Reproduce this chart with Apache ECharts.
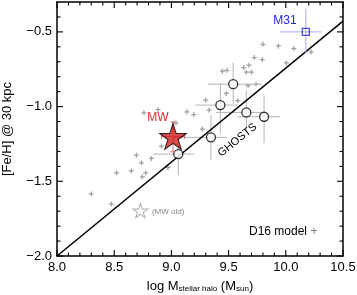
<!DOCTYPE html>
<html>
<head>
<meta charset="utf-8">
<script src="https://cdn.jsdelivr.net/npm/echarts@6/dist/echarts.min.js"></script>
<style>
html,body{margin:0;padding:0;background:#fff;}
#chart{width:357px;height:295px;}
</style>
</head>
<body>
<div id="chart"></div>
<script>
// ---- data ----
const xTickValues = [8.0, 8.5, 9.0, 9.5, 10.0, 10.5];
const xTickLabels = ['8.0', '8.5', '9.0', '9.5', '10.0', '10.5'];
const xMinorTicks = [8.1, 8.2, 8.3, 8.4, 8.6, 8.7, 8.8, 8.9, 9.1, 9.2, 9.3, 9.4,
                     9.6, 9.7, 9.8, 9.9, 10.1, 10.2, 10.3, 10.4];
const yTickValues = [-2.0, -1.5, -1.0, -0.5];
const yTickLabels = ['\u22122.0', '\u22121.5', '\u22121.0', '\u22120.5'];
const yMinorTicks = [-1.9, -1.8, -1.7, -1.6, -1.4, -1.3, -1.2, -1.1, -0.9, -0.8, -0.7, -0.6, -0.4];

const d16X = [9.80, 9.935, 10.07, 10.22, 9.725, 9.795, 10.005, 9.632, 9.678, 9.655, 9.70, 9.446, 9.486,
              9.67, 9.74, 9.48, 9.30, 9.58, 9.33, 9.136, 9.195, 9.27, 9.04,
              8.76, 8.883, 8.913, 8.694, 8.738, 8.825, 8.97, 8.65, 8.775, 8.746, 8.52, 8.30, 8.476];
const d16Y = [-0.583, -0.594, -0.612, -0.634, -0.672, -0.685, -0.708, -0.739, -0.723, -0.77, -0.77, -0.763, -0.757,
              -0.86, -0.85, -0.912, -0.957, -0.96, -1.024, -1.035, -1.053, -1.15, -1.11,
              -1.042, -1.02, -1.265, -1.325, -1.376, -1.347, -1.407, -1.43, -1.443, -1.47, -1.443, -1.585, -1.652];

const ghostsX = [9.54, 9.428, 9.655, 9.81, 9.346, 9.06];
const ghostsY = [-0.85, -0.99, -1.039, -1.068, -1.206, -1.318];
const ghostsXLo = [9.32, 9.21, 9.39, 9.58, 9.01, 8.84];
const ghostsXHi = [9.79, 9.58, 9.80, 9.95, 9.49, 9.20];
const ghostsYLo = [-0.98, -1.18, -1.17, -1.245, -1.36, -1.46];
const ghostsYHi = [-0.705, -0.845, -0.89, -0.924, -1.058, -1.19];

const mwX = [9.014], mwY = [-1.20];
const mwXLo = [8.913], mwXHi = [9.115], mwYLo = [-1.303], mwYHi = [-1.102];
const mwOldX = [8.729], mwOldY = [-1.697];

const m31X = [10.175], m31Y = [-0.50];
const m31XLo = [9.95], m31XHi = [10.31], m31YLo = [-0.645], m31YHi = [-0.345];

const fitX = [8.0, 10.5];
const fitY = [-2.0, -0.4275];

// annotation texts and their anchor points (data coordinates)
const noteTexts = ['MW', 'M31', 'GHOSTS', '(MW old)', 'D16 model'];
const noteX = [8.882, 9.992, 9.577, 8.83, 9.678];
const noteY = [-1.073, -0.425, -1.224, -1.702, -1.837];

// ---- helpers ----
const X_MIN = 8.0, X_MAX = 10.5, Y_MIN = -2.0, Y_MAX = -0.3;
const FONT = '"Liberation Sans", Arial, Helvetica, sans-serif';
const STAR = 'path://M100,0 L122.45,69.1 L195.1,69.1 L136.3,111.8 L158.8,180.9 L100,138.2 L41.2,180.9 L63.7,111.8 L4.9,69.1 L77.55,69.1 Z';
const PLUS = 'path://M0,1.5 H4 V2.5 H0 Z M1.5,0 H2.5 V4 H1.5 Z';

function zip(...arrs) { return arrs[0].map((_, i) => arrs.map(a => a[i])); }
function fmtTick(values, labels) {
  return v => { const i = values.findIndex(t => Math.abs(t - v) < 1e-6); return i >= 0 ? labels[i] : ''; };
}
function errRender(color, width, cap) {
  return function (params, api) {
    const x = api.value(0), y = api.value(1);
    const l = api.coord([api.value(2), y]), r = api.coord([api.value(3), y]);
    const b = api.coord([x, api.value(4)]), t = api.coord([x, api.value(5)]);
    const st = { stroke: color, lineWidth: width };
    const ch = [
      { type: 'line', shape: { x1: l[0], y1: l[1], x2: r[0], y2: r[1] }, style: st },
      { type: 'line', shape: { x1: b[0], y1: b[1], x2: t[0], y2: t[1] }, style: st }
    ];
    if (cap) {
      ch.push({ type: 'line', shape: { x1: l[0], y1: l[1] - cap, x2: l[0], y2: l[1] + cap }, style: st });
      ch.push({ type: 'line', shape: { x1: r[0], y1: r[1] - cap, x2: r[0], y2: r[1] + cap }, style: st });
      ch.push({ type: 'line', shape: { x1: b[0] - cap, y1: b[1], x2: b[0] + cap, y2: b[1] }, style: st });
      ch.push({ type: 'line', shape: { x1: t[0] - cap, y1: t[1], x2: t[0] + cap, y2: t[1] }, style: st });
    }
    return { type: 'group', children: ch };
  };
}
// inward ticks on all four sides, placed through the axes' own scales; drawn as thin filled bars
const tickData = [].concat(
  xTickValues.map(v => [v, Y_MIN, 1, 0]), xMinorTicks.map(v => [v, Y_MIN, 0, 0]),
  yTickValues.map(v => [X_MIN, v, 1, 1]), yMinorTicks.map(v => [X_MIN, v, 0, 1]));
function tickRender(params, api) {
  const major = api.value(2) === 1, isY = api.value(3) === 1;
  const len = major ? 6 : 3.5, w = 1.1;
  const st = { fill: '#000', stroke: null };
  if (!isY) {
    const v = api.value(0);
    const b = api.coord([v, Y_MIN]), t = api.coord([v, Y_MAX]);
    return { type: 'group', children: [
      { type: 'rect', shape: { x: b[0] - w / 2, y: b[1] - len, width: w, height: len }, style: st },
      { type: 'rect', shape: { x: t[0] - w / 2, y: t[1], width: w, height: len }, style: st }] };
  }
  const v = api.value(1);
  const l = api.coord([X_MIN, v]), r = api.coord([X_MAX, v]);
  return { type: 'group', children: [
    { type: 'rect', shape: { x: l[0], y: l[1] - w / 2, width: len, height: w }, style: st },
    { type: 'rect', shape: { x: r[0] - len, y: r[1] - w / 2, width: len, height: w }, style: st }] };
}
// annotation text styles
const noteStyles = [
  { fill: '#dd2a2a', fontSize: 12, align: 'center', rot: 0 },
  { fill: '#2424e6', fontSize: 12, align: 'center', rot: 0 },
  { fill: '#000', fontSize: 11, align: 'center', rot: 39 },
  { fill: '#888', fontSize: 8, align: 'left', rot: 0 },
  { fill: '#000', fontSize: 12, align: 'left', rot: 0, plus: true }
];
const noteData = zip(noteX, noteY, noteTexts.map((_, i) => i));
function noteRender(params, api) {
  const i = api.value(2);
  const s = noteStyles[i];
  const p = api.coord([api.value(0), api.value(1)]);
  const style = { align: s.align, verticalAlign: 'middle', fontFamily: FONT, fontSize: s.fontSize, fill: s.fill };
  if (s.plus) {
    style.text = '{a|' + noteTexts[i] + ' }{b|+}';
    style.rich = {
      a: { fontSize: s.fontSize, fontFamily: FONT, fill: s.fill },
      b: { fontSize: 13, fontFamily: FONT, fill: '#888' }
    };
  } else {
    style.text = noteTexts[i];
  }
  return { type: 'text', x: p[0], y: p[1], rotation: s.rot * Math.PI / 180, style: style };
}

const frameLine = { show: true, onZero: false, lineStyle: { color: '#000', width: 1.5 } };

const chart = echarts.init(document.getElementById('chart'), null, { renderer: 'canvas' });
chart.setOption({
  animation: false,
  backgroundColor: '#fff',
  grid: { left: 57, right: 14, top: 2, bottom: 39, containLabel: false, outerBoundsMode: 'none' },
  xAxis: [{
    type: 'value', position: 'bottom', min: X_MIN, max: X_MAX, interval: 0.5,
    axisLine: frameLine, axisTick: { show: false }, splitLine: { show: false },
    axisLabel: { show: true, color: '#000', fontSize: 13, fontFamily: FONT, margin: 5,
      formatter: fmtTick(xTickValues, xTickLabels) },
    name: '{n|log M}{s|stellar halo}{n| (M}{s|sun}{n|)}',
    nameLocation: 'middle', nameGap: 21, nameMoveOverlap: false,
    nameTextStyle: {
      rich: {
        n: { fontSize: 13, fontFamily: FONT, color: '#000', lineHeight: 16, verticalAlign: 'bottom' },
        s: { fontSize: 8, fontFamily: FONT, color: '#000', lineHeight: 9, verticalAlign: 'bottom' }
      }
    }
  }, {
    type: 'value', position: 'top', min: X_MIN, max: X_MAX, interval: 0.5,
    axisLine: frameLine, axisTick: { show: false }, splitLine: { show: false }, axisLabel: { show: false }
  }],
  yAxis: [{
    type: 'value', position: 'left', min: Y_MIN, max: Y_MAX, interval: 0.5,
    axisLine: frameLine, axisTick: { show: false }, splitLine: { show: false },
    axisLabel: { show: true, color: '#000', fontSize: 13, fontFamily: FONT, margin: 5,
      showMaxLabel: false, formatter: fmtTick(yTickValues, yTickLabels) },
    name: '[Fe/H] @ 30 kpc', nameLocation: 'middle', nameGap: 43, nameRotate: 90, nameMoveOverlap: false,
    nameTextStyle: { fontSize: 13, fontFamily: FONT, color: '#000' }
  }, {
    type: 'value', position: 'right', min: Y_MIN, max: Y_MAX, interval: 0.5,
    axisLine: frameLine, axisTick: { show: false }, splitLine: { show: false }, axisLabel: { show: false }
  }],
  series: [
    { type: 'custom', name: 'ticks', data: tickData, renderItem: tickRender, silent: true, z: 10 },
    { type: 'scatter', name: 'D16', data: zip(d16X, d16Y), symbol: PLUS, symbolSize: 5,
      itemStyle: { color: '#8a8a8a' }, z: 2 },
    { type: 'custom', name: 'ghostsErr', data: zip(ghostsX, ghostsY, ghostsXLo, ghostsXHi, ghostsYLo, ghostsYHi),
      renderItem: errRender('#b4b4b4', 1, 0), z: 3 },
    { type: 'line', name: 'fit', data: zip(fitX, fitY), symbol: 'none',
      lineStyle: { color: '#000', width: 1.5 }, z: 4 },
    { type: 'scatter', name: 'GHOSTS', data: zip(ghostsX, ghostsY), symbol: 'circle', symbolSize: 9,
      itemStyle: { color: '#fff', borderColor: '#000', borderWidth: 1.3 }, z: 5 },
    { type: 'custom', name: 'm31Err', data: zip(m31X, m31Y, m31XLo, m31XHi, m31YLo, m31YHi),
      renderItem: errRender('#a8a8ff', 1, 0), z: 5 },
    { type: 'scatter', name: 'M31', data: zip(m31X, m31Y), symbol: 'rect', symbolSize: 7,
      itemStyle: { color: 'rgba(255,255,255,0)', borderColor: '#1f1fe6', borderWidth: 1.3 }, z: 6 },
    { type: 'custom', name: 'mwErr', data: zip(mwX, mwY, mwXLo, mwXHi, mwYLo, mwYHi),
      renderItem: errRender('#e07070', 1, 2.5), z: 6 },
    { type: 'scatter', name: 'MW', data: zip(mwX, mwY), symbol: STAR, symbolSize: [27, 26],
      itemStyle: { color: '#cf1f1f', borderColor: '#000', borderWidth: 1 }, z: 7 },
    { type: 'scatter', name: 'MW old', data: zip(mwOldX, mwOldY), symbol: STAR, symbolSize: [15, 14],
      itemStyle: { color: 'rgba(255,255,255,0)', borderColor: '#999', borderWidth: 1 }, z: 7 },
    { type: 'custom', name: 'notes', data: noteData, renderItem: noteRender, silent: true, z: 8 }
  ]
});
</script>
</body>
</html>
